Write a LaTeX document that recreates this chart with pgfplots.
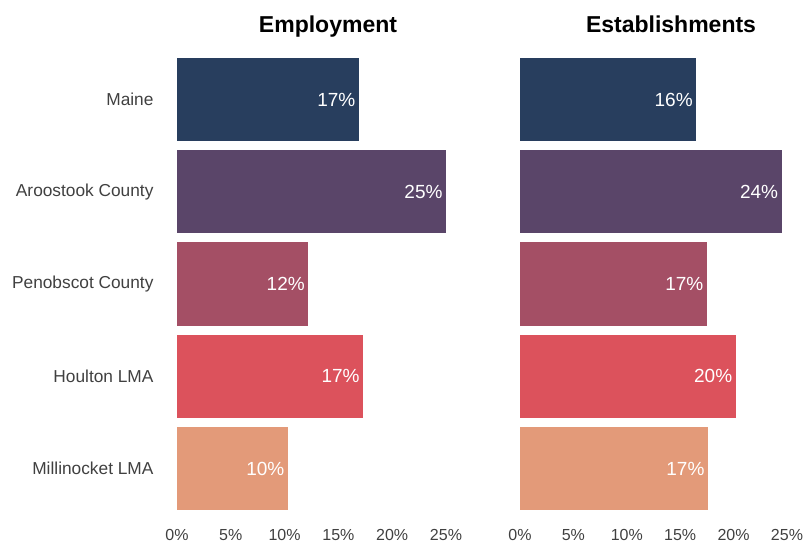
\documentclass[border=0pt]{standalone}
\usepackage{fontspec}
\setmainfont{Liberation Sans}
\usepackage{pgfplots}
\pgfplotsset{compat=1.18}
\definecolor{cMaine}{HTML}{283E5E}
\definecolor{cAroo}{HTML}{5A4569}
\definecolor{cPeno}{HTML}{A44F65}
\definecolor{cHoul}{HTML}{DC525C}
\definecolor{cMill}{HTML}{E39A79}
\definecolor{txt}{HTML}{404040}
\pgfplotsset{
 panel/.style={
  xbar, scale only axis, height=452pt,
  anchor=south west,
  xmin=0, xmax=25, ymin=-0.45, ymax=4.45, y dir=reverse,
  bar width=0.9, bar shift=0pt,
  axis line style={draw=none}, major tick length=0pt,
  xtick={0,5,10,15,20,25}, xticklabels={0\%,5\%,10\%,15\%,20\%,25\%},
  xticklabel style={font=\fontsize{16}{19}\selectfont, text=txt, yshift=-18.5pt, inner sep=1pt},
  ytick={0,1,2,3,4},
  yticklabel style={font=\fontsize{17.3}{20}\selectfont, text=txt, xshift=-20pt},
  point meta=explicit symbolic,
  nodes near coords,
  every node near coord/.append style={anchor=east, text=white, font=\fontsize{19}{22}\selectfont},
  clip=false,
 }
}
\begin{document}
\begin{tikzpicture}
\useasboundingbox (0,0) rectangle (806pt,548pt);
\begin{axis}[panel, width=269pt, at={(177pt,38pt)},
  yticklabels={Maine,Aroostook County,Penobscot County,Houlton LMA,Millinocket LMA}]
\addplot[draw=none, fill=cMaine] coordinates {(16.9,0) [17\%]};
\addplot[draw=none, fill=cAroo] coordinates {(25.0,1) [25\%]};
\addplot[draw=none, fill=cPeno] coordinates {(12.2,2) [12\%]};
\addplot[draw=none, fill=cHoul] coordinates {(17.3,3) [17\%]};
\addplot[draw=none, fill=cMill] coordinates {(10.3,4) [10\%]};
\end{axis}
\begin{axis}[panel, width=267pt, at={(520pt,38pt)}, yticklabels={}]
\addplot[draw=none, fill=cMaine] coordinates {(16.5,0) [16\%]};
\addplot[draw=none, fill=cAroo] coordinates {(24.5,1) [24\%]};
\addplot[draw=none, fill=cPeno] coordinates {(17.5,2) [17\%]};
\addplot[draw=none, fill=cHoul] coordinates {(20.2,3) [20\%]};
\addplot[draw=none, fill=cMill] coordinates {(17.6,4) [17\%]};
\end{axis}
\node[font=\fontsize{23}{27}\selectfont\bfseries, anchor=base] at (328pt,515pt) {Employment};
\node[font=\fontsize{23}{27}\selectfont\bfseries, anchor=base] at (671pt,515pt) {Establishments};
\end{tikzpicture}
\end{document}
